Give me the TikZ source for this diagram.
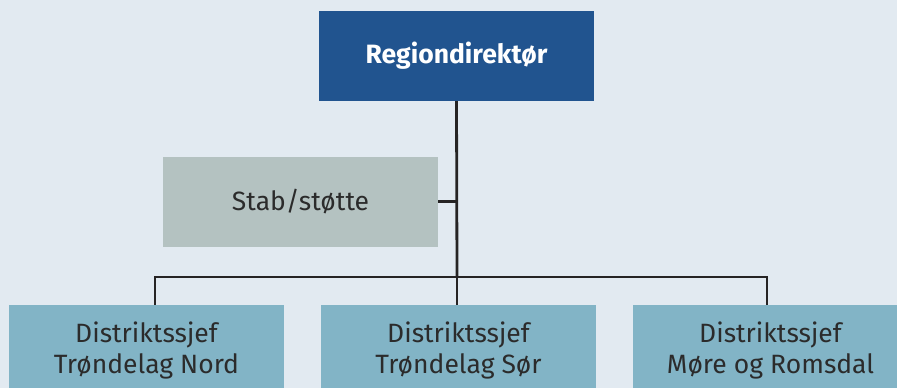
\documentclass[tikz,border=0pt]{standalone}
\usepackage{fontspec}
\setmainfont{Fira Sans}
\definecolor{bgcol}{HTML}{E2EAF1}
\definecolor{dircol}{HTML}{21548F}
\definecolor{stabcol}{HTML}{B4C2C1}
\definecolor{distcol}{HTML}{82B4C6}
\definecolor{txtcol}{HTML}{2B2B2B}
\definecolor{linecol}{HTML}{262424}
\tikzset{
  box/.style={shape=rectangle,minimum width=275pt,minimum height=90pt,inner sep=0pt,
    align=center,text=txtcol,font=\fontsize{26.5}{31}\selectfont},
  link/.style={draw=linecol,line width=2.8pt}
}
\begin{document}
\begin{tikzpicture}[x=1pt,y=-1pt]
 \fill[bgcol] (0,0) rectangle (897,388);
 \useasboundingbox (0,0) rectangle (897,388);

 \node[box,fill=dircol,text=white,font=\bfseries\fontsize{26.5}{31}\selectfont] (dir) at (456.5,56) {Regiondirektør};
 \node[box,fill=stabcol] (stab) at (300.5,201.5) {Stab/støtte};
 \node[box,fill=distcol] (d1) at (146.5,350) {Distriktssjef\\Trøndelag Nord};
 \node[box,fill=distcol] (d2) at (458.5,350) {Distriktssjef\\Trøndelag Sør};
 \node[box,fill=distcol] (d3) at (770.5,350) {Distriktssjef\\Møre og Romsdal};

 \coordinate (bus) at (457,277);

 \draw[link] (dir.south) -- (bus);
 \draw[link] (stab.east) -- (stab.east -| bus);
 \draw[link] ([xshift=8.5pt]d1.north) |- (bus) -| ([xshift=-3.5pt]d3.north);
 \draw[link] (bus) -- (bus |- d2.north);
\end{tikzpicture}
\end{document}
